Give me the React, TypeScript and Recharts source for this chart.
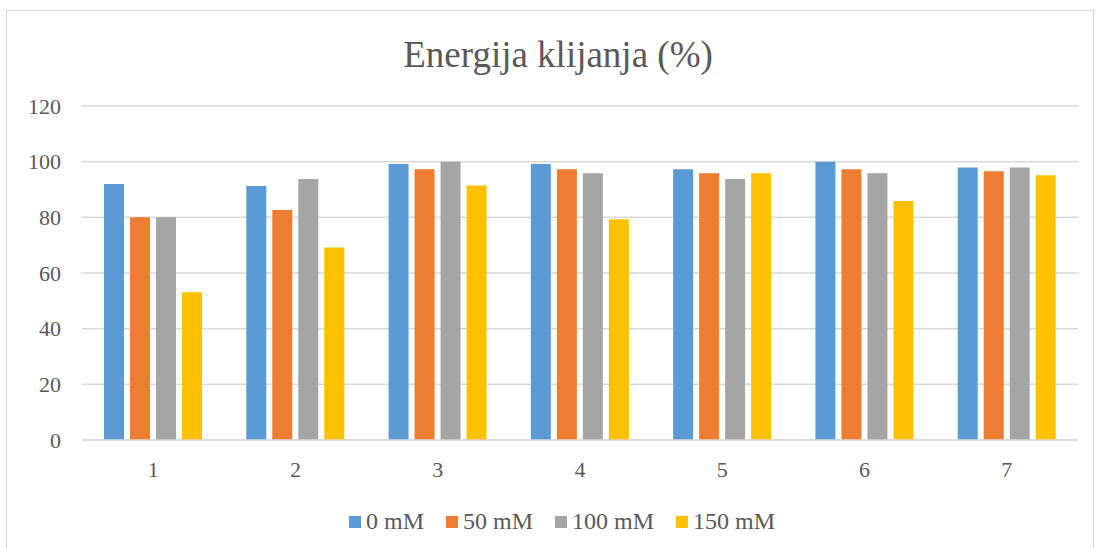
import React from 'react'
import {
  BarChart,
  Bar,
  XAxis,
  YAxis,
  CartesianGrid,
  Legend,
} from 'recharts'

const categories = ['1', '2', '3', '4', '5', '6', '7']
const mM0 = [92.0, 91.3, 99.2, 99.2, 97.3, 100, 97.9]
const mM50 = [80.0, 82.6, 97.3, 97.3, 95.8, 97.3, 96.6]
const mM100 = [80.0, 93.8, 100, 95.8, 93.8, 95.8, 97.9]
const mM150 = [53.1, 69.2, 91.4, 79.3, 95.8, 85.9, 95.1]
const yTicks = [0, 20, 40, 60, 80, 100, 120]

const series = [
  { key: 'a', name: '0 mM', color: '#5B9BD5' },
  { key: 'b', name: '50 mM', color: '#ED7D31' },
  { key: 'c', name: '100 mM', color: '#A5A5A5' },
  { key: 'd', name: '150 mM', color: '#FFC000' },
]

const data = categories.map((c, i) => ({
  name: c,
  a: mM0[i],
  b: mM50[i],
  c: mM100[i],
  d: mM150[i],
}))

const font = '"Liberation Serif", "Times New Roman", serif'
const textColor = '#595959'

function LegendContent() {
  return (
    <div style={{ display: 'flex', justifyContent: 'center', gap: 22, fontFamily: font, fontSize: 24, color: textColor, paddingLeft: 26 }}>
      {series.map(s => (
        <div key={s.key} style={{ display: 'flex', alignItems: 'center' }}>
          <span style={{ width: 12, height: 12, background: s.color, display: 'inline-block', marginRight: 5 }} />
          <span>{s.name}</span>
        </div>
      ))}
    </div>
  )
}

export default function App() {
  return (
    <div style={{ position: 'absolute', left: 0, top: 0, width: 1097, height: 548, background: '#fff', overflow: 'hidden' }}>
      <div style={{ position: 'absolute', left: 6, top: 10, width: 1086, height: 560, border: '1px solid #d9d9d9' }} />
      <div style={{ position: 'absolute', left: 0, top: 34, width: 1116, textAlign: 'center', fontFamily: font, fontSize: 37, color: textColor, lineHeight: '42px' }}>
        Energija klijanja (%)
      </div>
      <div style={{ position: 'absolute', left: 0, top: 0 }}>
        <BarChart
          width={1097}
          height={548}
          data={data}
          margin={{ top: 106, right: 19, left: 20, bottom: 28 }}
          barGap={6}
          barSize={20}
        >
          <CartesianGrid vertical={false} stroke="#d9d9d9" strokeWidth={1.5} />
          <XAxis
            dataKey="name"
            tickLine={false}
            axisLine={{ stroke: '#d9d9d9', strokeWidth: 1.5 }}
            tick={{ fontSize: 22, fill: textColor, fontFamily: font }}
            tickMargin={15}
            height={40}
          />
          <YAxis
            domain={[0, 120]}
            ticks={yTicks}
            width={62}
            tickLine={false}
            axisLine={false}
            tick={{ fontSize: 22, fill: textColor, fontFamily: font }}
            tickMargin={15}
          />
          <Legend verticalAlign="bottom" height={40} content={<LegendContent />} wrapperStyle={{ bottom: 0 }} />
          {series.map(s => (
            <Bar key={s.key} dataKey={s.key} name={s.name} fill={s.color} isAnimationActive={false} />
          ))}
        </BarChart>
      </div>
    </div>
  )
}
